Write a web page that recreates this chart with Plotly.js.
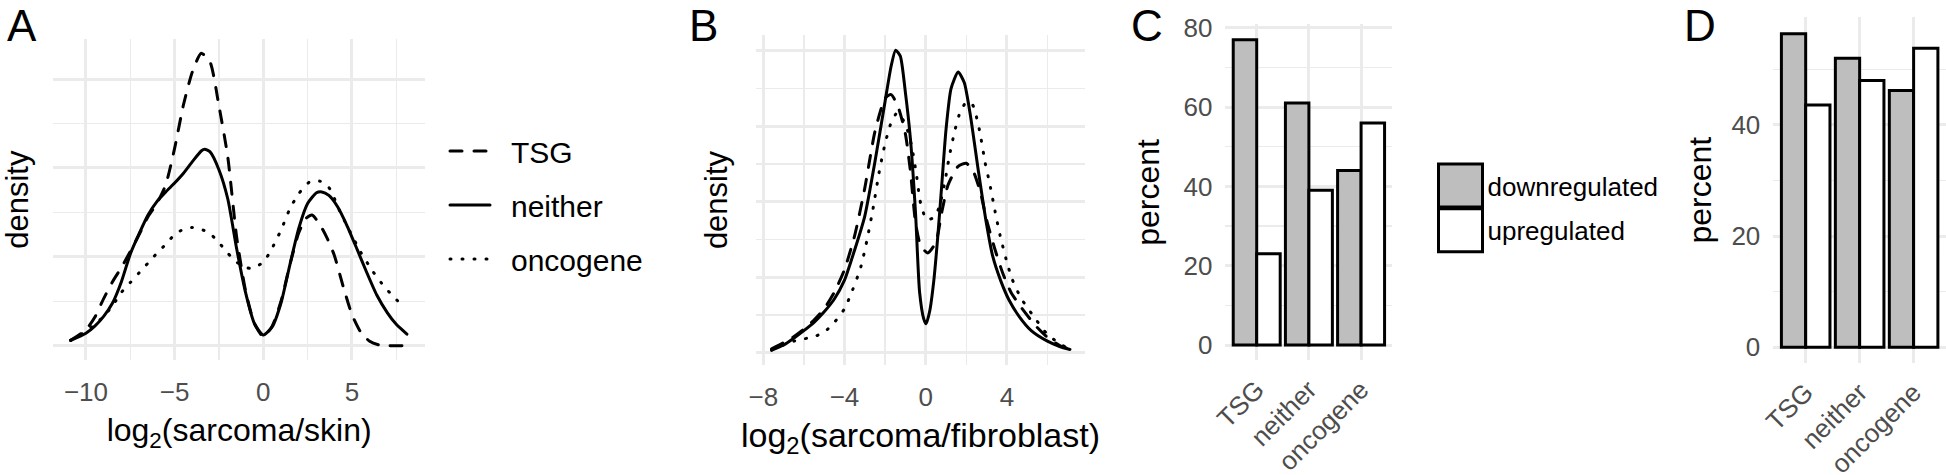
<!DOCTYPE html>
<html>
<head>
<meta charset="utf-8">
<script src="https://cdn.plot.ly/plotly-3.0.1.min.js"></script>
<style>
html,body{margin:0;padding:0;background:#fff;}
#chart{width:1946px;height:475px;}
.js-line{stroke-linecap:round;}
</style>
</head>
<body>
<div id="chart"></div>
<script>
// ---------- Panel A: density of log2(sarcoma/skin) ----------
const aTSG_x = [-10.86,-10.0,-9.5,-9.0,-8.5,-8.0,-7.5,-7.0,-6.5,-6.0,-5.5,-5.0,-4.5,-4.0,-3.5,-3.0,-2.5,-2.0,-1.5,-1.0,-0.5,0.0,0.5,1.0,1.5,2.0,2.4,2.75,3.2,3.6,4.0,4.5,5.0,5.5,6.0,6.5,7.0,8.1];
const aTSG_y = [0.006,0.018,0.032,0.053,0.072,0.088,0.106,0.125,0.145,0.160,0.181,0.222,0.271,0.308,0.329,0.319,0.270,0.212,0.122,0.062,0.025,0.010,0.022,0.050,0.091,0.127,0.143,0.147,0.136,0.121,0.102,0.067,0.035,0.015,0.005,0.001,0.000,0.000];
const aNei_x = [-10.86,-10.0,-9.5,-9.0,-8.5,-8.0,-7.5,-7.0,-6.5,-6.0,-5.5,-5.0,-4.5,-4.0,-3.5,-3.3,-3.0,-2.5,-2.0,-1.5,-1.0,-0.5,0.0,0.5,1.0,1.5,2.0,2.5,3.0,3.3,3.7,4.2,4.7,5.3,5.8,6.4,7.0,7.5,8.1];
const aNei_y = [0.006,0.014,0.022,0.033,0.048,0.072,0.103,0.126,0.147,0.162,0.173,0.183,0.194,0.207,0.219,0.221,0.218,0.198,0.165,0.109,0.060,0.025,0.012,0.021,0.048,0.091,0.132,0.160,0.172,0.173,0.169,0.156,0.136,0.108,0.084,0.057,0.037,0.024,0.013];
const aOnc_x = [-10.86,-10.0,-9.5,-9.0,-8.5,-8.0,-7.5,-7.0,-6.5,-6.0,-5.5,-5.0,-4.5,-4.0,-3.5,-3.0,-2.5,-2.0,-1.5,-1.0,-0.6,0.0,0.4,1.0,1.5,2.0,2.6,3.2,3.7,4.3,4.9,5.5,6.2,6.8,7.4,7.8];
const aOnc_y = [0.006,0.016,0.024,0.033,0.045,0.060,0.071,0.082,0.093,0.104,0.114,0.125,0.131,0.133,0.131,0.126,0.116,0.104,0.094,0.088,0.087,0.094,0.106,0.130,0.154,0.171,0.184,0.185,0.178,0.152,0.128,0.105,0.083,0.067,0.054,0.046];

// ---------- Panel B: density of log2(sarcoma/fibroblast) ----------
const bTSG_x = [-7.59,-7.0,-6.5,-6.0,-5.5,-5.0,-4.5,-4.0,-3.5,-3.0,-2.5,-2.0,-1.7,-1.35,-1.0,-0.75,-0.5,-0.25,0.1,0.5,0.8,1.1,1.6,2.0,2.35,2.7,3.0,3.4,3.8,4.2,4.7,5.4,6.0,6.7,7.11];
const bTSG_y = [0.005,0.013,0.021,0.031,0.043,0.058,0.080,0.110,0.155,0.218,0.293,0.337,0.342,0.325,0.290,0.240,0.172,0.142,0.132,0.146,0.187,0.222,0.247,0.251,0.240,0.212,0.176,0.138,0.105,0.080,0.060,0.036,0.020,0.008,0.005];
const bNei_x = [-7.59,-7.0,-6.5,-6.0,-5.5,-5.0,-4.5,-4.0,-3.5,-3.0,-2.5,-2.0,-1.7,-1.48,-1.25,-1.0,-0.75,-0.5,-0.3,-0.1,0.02,0.2,0.4,0.6,0.8,1.0,1.25,1.6,1.9,2.2,2.6,3.0,3.3,3.7,4.1,4.6,5.2,6.0,6.6,7.11];
const bNei_y = [0.003,0.010,0.019,0.029,0.040,0.054,0.071,0.096,0.136,0.181,0.253,0.333,0.380,0.401,0.393,0.345,0.283,0.185,0.080,0.045,0.038,0.055,0.095,0.155,0.225,0.295,0.350,0.372,0.358,0.315,0.240,0.170,0.128,0.095,0.070,0.048,0.029,0.015,0.008,0.004];
const bOnc_x = [-7.59,-7.0,-6.5,-6.0,-5.5,-5.0,-4.5,-4.0,-3.6,-3.2,-2.9,-2.6,-2.3,-2.0,-1.7,-1.4,-1.0,-0.7,-0.45,-0.25,0.05,0.45,0.7,0.95,1.15,1.4,1.65,2.0,2.3,2.65,2.92,3.17,3.42,3.66,4.0,4.25,4.7,5.4,6.0,6.7,7.11];
const bOnc_y = [0.003,0.010,0.015,0.018,0.021,0.027,0.040,0.058,0.083,0.113,0.148,0.190,0.238,0.277,0.305,0.318,0.303,0.275,0.235,0.198,0.176,0.180,0.196,0.227,0.258,0.290,0.315,0.332,0.329,0.295,0.253,0.222,0.187,0.156,0.120,0.098,0.072,0.045,0.024,0.010,0.005];

// ---------- Panels C and D: percent down/up by gene class ----------
const geneClasses = ['TSG','neither','oncogene'];
const cDown = [77, 61, 44];
const cUp   = [23, 39, 56];
const dDown = [56.4, 52, 46.2];
const dUp   = [43.6, 48, 53.8];

const W = 1946, H = 475;
const FONT = 'Liberation Sans, Arial, Helvetica, sans-serif';
const GRID = '#ebebeb';
const TICKC = '#4d4d4d';
const px = v => v / W;
const py = v => 1 - v / H;

function lineTrace(x, y, name, dash, xa, ya, show) {
  return {type:'scatter', mode:'lines', x:x, y:y, name:name,
    line:{color:'black', width:3, dash:dash, shape:'spline', smoothing:0.6},
    xaxis:xa, yaxis:ya, showlegend:show, legend:'legend', legendgroup:name, hoverinfo:'skip'};
}
const DASH = '12px,12px', DOT = '1px,11px';

const traces = [
  lineTrace(aTSG_x, aTSG_y, 'TSG', DASH, 'x', 'y', true),
  lineTrace(aNei_x, aNei_y, 'neither', 'solid', 'x', 'y', true),
  lineTrace(aOnc_x, aOnc_y, 'oncogene', DOT, 'x', 'y', true),
  lineTrace(bTSG_x, bTSG_y, 'TSG', DASH, 'x2', 'y2', false),
  lineTrace(bNei_x, bNei_y, 'neither', 'solid', 'x2', 'y2', false),
  lineTrace(bOnc_x, bOnc_y, 'oncogene', DOT, 'x2', 'y2', false),
  {type:'bar', x:geneClasses, y:cDown, name:'downregulated', xaxis:'x3', yaxis:'y3',
   marker:{color:'#bebebe', line:{color:'black', width:3}}, legend:'legend2', legendgroup:'down', showlegend:true},
  {type:'bar', x:geneClasses, y:cUp, name:'upregulated', xaxis:'x3', yaxis:'y3',
   marker:{color:'#ffffff', line:{color:'black', width:3}}, legend:'legend2', legendgroup:'up', showlegend:true},
  {type:'bar', x:geneClasses, y:dDown, name:'downregulated', xaxis:'x4', yaxis:'y4',
   marker:{color:'#bebebe', line:{color:'black', width:3}}, legend:'legend2', legendgroup:'down', showlegend:false},
  {type:'bar', x:geneClasses, y:dUp, name:'upregulated', xaxis:'x4', yaxis:'y4',
   marker:{color:'#ffffff', line:{color:'black', width:3}}, legend:'legend2', legendgroup:'up', showlegend:false}
];

const tickFont = {family:FONT, size:26, color:TICKC};
function titleFont(sz) { return {family:FONT, size:sz, color:'black'}; }

function xAxisNum(domain, range, dtick, minor, title, tsz) {
  return {domain:domain, range:range, dtick:dtick, tick0:0, showgrid:true, gridcolor:GRID, gridwidth:3,
    minor:{dtick:minor, tick0:0, showgrid:true, gridcolor:GRID, gridwidth:1.5},
    zeroline:false, showline:false, ticks:'', ticklabelstandoff:14, tickfont:tickFont,
    title:{text:title, font:titleFont(tsz), standoff:12}, fixedrange:true};
}
function yAxisDens(domain, range, anchor) {
  return {domain:domain, range:range, anchor:anchor, dtick:0.1, tick0:0, showgrid:true, gridcolor:GRID, gridwidth:3,
    minor:{dtick:0.05, tick0:0, showgrid:true, gridcolor:GRID, gridwidth:1.5},
    zeroline:false, showline:false, ticks:'', showticklabels:false,
    title:{text:'density', font:titleFont(31), standoff:18}, fixedrange:true};
}
function xAxisCat(domain, anchor) {
  return {domain:domain, anchor:anchor, type:'category', range:[-0.6, 2.6], showgrid:true, gridcolor:GRID, gridwidth:3,
    zeroline:false, showline:false, ticks:'', tickangle:-45, ticklabelstandoff:8,
    tickfont:{family:FONT, size:26, color:TICKC}, fixedrange:true};
}
function yAxisPct(domain, range, anchor, so) {
  return {domain:domain, range:range, anchor:anchor, dtick:20, tick0:0, showgrid:true, gridcolor:GRID, gridwidth:3,
    minor:{dtick:10, tick0:0, showgrid:true, gridcolor:GRID, gridwidth:1.5},
    zeroline:false, showline:false, ticks:'', ticklabelstandoff:12, tickfont:tickFont,
    title:{text:'percent', font:titleFont(32), standoff:so}, fixedrange:true};
}
function letter(t, x) {
  return {text:t, x:px(x), y:1, xref:'paper', yref:'paper', xanchor:'left', yanchor:'top', borderpad:0,
    showarrow:false, font:{family:FONT, size:44, color:'black'}};
}

const layout = {
  width:W, height:H, margin:{l:0, r:0, t:0, b:0},
  paper_bgcolor:'white', plot_bgcolor:'white',
  font:{family:FONT, color:'black'},
  barmode:'group', bargap:0.1, bargroupgap:0,
  xaxis: xAxisNum([px(53.3), px(425)], [-11.84, 9.12], 5, 2.5, 'log<sub>2</sub>(sarcoma/skin)', 32),
  yaxis: yAxisDens([py(360), py(39.3)], [-0.01609, 0.34466], 'x'),
  xaxis2: Object.assign(xAxisNum([px(756), px(1085)], [-8.36, 7.85], 4, 2, 'log<sub>2</sub>(sarcoma/fibroblast)', 34), {anchor:'y2'}),
  yaxis2: yAxisDens([py(365), py(35)], [-0.01658, 0.42109], 'x2'),
  xaxis3: xAxisCat([px(1225.4), px(1392.4)], 'y3'),
  yaxis3: yAxisPct([py(360.3), py(24.4)], [-3.85, 80.85], 'x3', 14),
  xaxis4: xAxisCat([px(1773.3), 1.0], 'y4'),
  yaxis4: yAxisPct([py(363), py(17.45)], [-2.825, 59.325], 'x4', 10),
  legend:{x:px(445), y:py(125), xanchor:'left', yanchor:'top', bgcolor:'rgba(0,0,0,0)', borderwidth:0,
    font:{family:FONT, size:30, color:'black'}, traceorder:'grouped', tracegroupgap:12, itemwidth:56},
  legend2:{x:px(1433.5), y:py(162), xanchor:'left', yanchor:'top', bgcolor:'rgba(0,0,0,0)', borderwidth:0,
    font:{family:FONT, size:26, color:'black'}, traceorder:'grouped', tracegroupgap:8, itemwidth:44},
  annotations:[letter('A', 6), letter('B', 688), letter('C', 1130), letter('D', 1683)]
};

Plotly.newPlot('chart', traces, layout, {displayModeBar:false, staticPlot:true}).then(function(gd){
  // legend keys drawn like the original: 40px line keys, big square fill keys
  document.querySelectorAll('.legend .legendlines path').forEach(function(p){
    p.setAttribute('d', 'M5,0h40');
  });
  document.querySelectorAll('.legend2 .legendpoints path').forEach(function(p){
    p.setAttribute('d', 'M22,21.5H-22V-21.5H22Z');
  });
});
</script>
</body>
</html>
